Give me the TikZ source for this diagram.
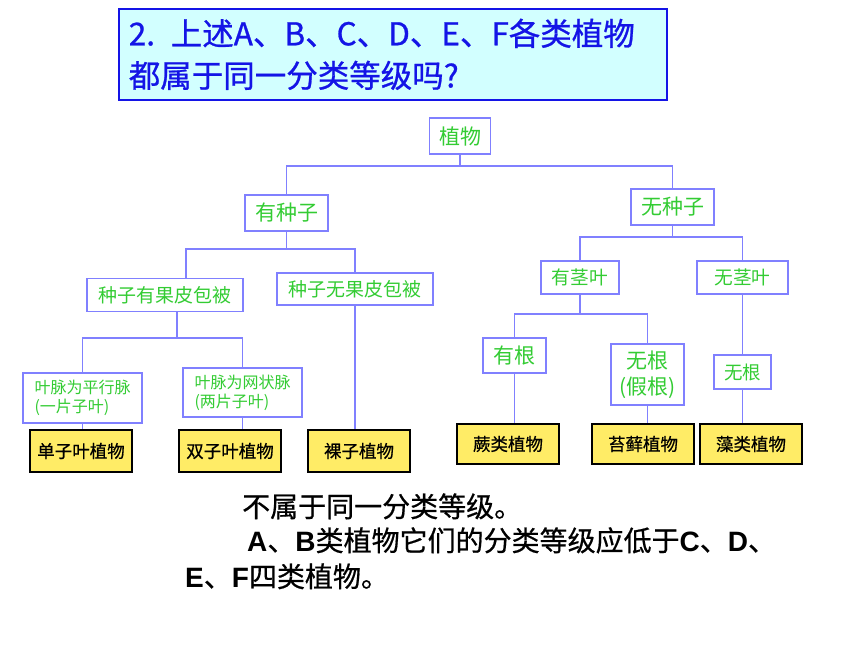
\documentclass[tikz,border=0pt]{standalone}
\usepackage{xcolor}
\usepackage{fontspec}
\usepackage{tikz}

\newfontfamily\cjk{Noto Sans CJK SC}
\newfontfamily\cjkb{Noto Sans CJK SC}[FakeBold=0.6]
\newfontfamily\titlefont{Noto Sans CJK SC}[FakeBold=0.8]
\newfontfamily\latin{Liberation Sans}
\newcommand{\eng}[1]{{\latin\bfseries #1}}

\definecolor{linkblue}{RGB}{128,128,255}
\definecolor{keygreen}{RGB}{51,204,51}
\definecolor{plantyellow}{RGB}{255,236,102}
\definecolor{titlefill}{RGB}{210,255,255}
\definecolor{titleblue}{RGB}{20,20,230}

\begin{document}
\begin{tikzpicture}[x=1pt, y=-1pt,
    keybox/.style={draw=linkblue, line width=1.2pt, fill=white, text=keygreen, inner sep=0pt, align=center},
    plantbox/.style={draw=black, line width=1.2pt, fill=plantyellow, inner sep=0pt, minimum width=102pt, font=\cjkb\fontsize{17.5}{20}\selectfont},
    link/.style={draw=linkblue, line width=1.2pt},
    answer/.style={inner sep=0pt, anchor=base west, font=\cjkb\fontsize{28}{34}\selectfont}]
    \useasboundingbox (0,0) rectangle (860,645);

    % Question box - at the top
    \node[draw=titleblue, line width=1.6pt, fill=titlefill, text=titleblue, anchor=north west, minimum width=548pt, minimum height=91pt, text width=528pt, inner xsep=10pt, align=left, font=\titlefont\fontsize{31.5}{42}\selectfont] (question) at (118,8) {2. 上述A、B、C、D、E、F各类植物\\都属于同一分类等级吗?};

    % Key - first levels
    \node[keybox, minimum width=61pt, minimum height=36pt, font=\cjk\fontsize{21}{26}\selectfont] (zhiwu) at (460,136) {植物};
    \node[keybox, minimum width=83pt, minimum height=36pt, font=\cjk\fontsize{21}{26}\selectfont] (youzhongzi) at (286.5,213) {有种子};
    \node[keybox, minimum width=83pt, minimum height=36pt, font=\cjk\fontsize{21}{26}\selectfont] (wuzhongzi) at (672.5,207) {无种子};
    \node[keybox, minimum width=156pt, minimum height=33pt, font=\cjk\fontsize{19}{23}\selectfont] (guopi) at (165,295) {种子有果皮包被};
    \node[keybox, minimum width=156pt, minimum height=32pt, font=\cjk\fontsize{19}{23}\selectfont] (wuguopi) at (355,289) {种子无果皮包被};
    \node[keybox, minimum width=78pt, minimum height=33pt, font=\cjk\fontsize{18.7}{22}\selectfont] (youjingye) at (580,277.5) {有茎叶};
    \node[keybox, minimum width=91pt, minimum height=33pt, font=\cjk\fontsize{18.7}{22}\selectfont] (wujingye) at (742.5,277.5) {无茎叶};

    % Key - last levels
    \node[keybox, align=left, minimum width=119pt, minimum height=50pt, font=\cjk\fontsize{16}{19}\selectfont] (pingxing) at (82.5,398) {叶脉为平行脉\\(一片子叶)};
    \node[keybox, align=left, minimum width=119pt, minimum height=49pt, font=\cjk\fontsize{16}{19}\selectfont] (wangzhuang) at (242.5,392.5) {叶脉为网状脉\\(两片子叶)};
    \node[keybox, minimum width=63pt, minimum height=35pt, font=\cjk\fontsize{21}{26}\selectfont] (yougen) at (514.5,355.5) {有根};
    \node[keybox, minimum width=73pt, minimum height=61pt, font=\cjk\fontsize{21}{26}\selectfont] (jiagen) at (647.5,374.5) {无根\\(假根)};
    \node[keybox, minimum width=57pt, minimum height=34pt, font=\cjk\fontsize{18.5}{22}\selectfont] (wugen) at (742.5,372) {无根};

    % Plant groups - yellow boxes
    \node[plantbox, minimum height=42pt] (danzi) at (81,451) {单子叶植物};
    \node[plantbox, minimum height=42pt] (shuangzi) at (230,451) {双子叶植物};
    \node[plantbox, minimum height=42pt] (luozi) at (359,451) {裸子植物};
    \node[plantbox, minimum height=40pt] (juelei) at (508,444) {蕨类植物};
    \node[plantbox, minimum height=40pt] (taixian) at (643,444) {苔藓植物};
    \node[plantbox, minimum height=40pt] (zaolei) at (751,444) {藻类植物};

    % Forks - branch points
    \coordinate (fork1) at (460,166);
    \coordinate (fork2) at (286.5,249);
    \coordinate (fork3) at (177,338);
    \coordinate (fork4) at (672.5,237);
    \coordinate (fork5) at (580,314);

    % Edges - forks
    \draw[link] (zhiwu.south) -- (fork1);
    \draw[link] (youzhongzi.north) |- (fork1) -| (wuzhongzi.north);
    \draw[link] (youzhongzi.south) -- (fork2);
    \draw[link] ([xshift=21pt]guopi.north) |- (fork2) -| (wuguopi.north);
    \draw[link] ([xshift=12pt]guopi.south) -- (fork3);
    \draw[link] (pingxing.north) |- (fork3) -| (wangzhuang.north);
    \draw[link] (wuzhongzi.south) -- (fork4);
    \draw[link] (youjingye.north) |- (fork4) -| (wujingye.north);
    \draw[link] (youjingye.south) -- (fork5);
    \draw[link] (yougen.north) |- (fork5) -| (jiagen.north);

    % Edges - down to the plant groups
    \draw[link] (pingxing.south) -- (pingxing.south |- danzi.north);
    \draw[link] (wangzhuang.south) -- (wangzhuang.south |- shuangzi.north);
    \draw[link] (wuguopi.south) -- (wuguopi.south |- luozi.north);
    \draw[link] (yougen.south) -- (yougen.south |- juelei.north);
    \draw[link] (jiagen.south) -- (jiagen.south |- taixian.north);
    \draw[link] (wujingye.south) -- (wugen.north);
    \draw[link] (wugen.south) -- (wugen.south |- zaolei.north);

    % Answer - below the key
    \node[answer] (ans1) at (242,517) {不属于同一分类等级。};
    \node[answer] (ans2) at (247,551) {\eng{A}、\eng{B}类植物它们的分类等级应低于\eng{C}、\eng{D}、};
    \node[answer] (ans3) at (185,587) {\eng{E}、\eng{F}四类植物。};
\end{tikzpicture}
\end{document}
